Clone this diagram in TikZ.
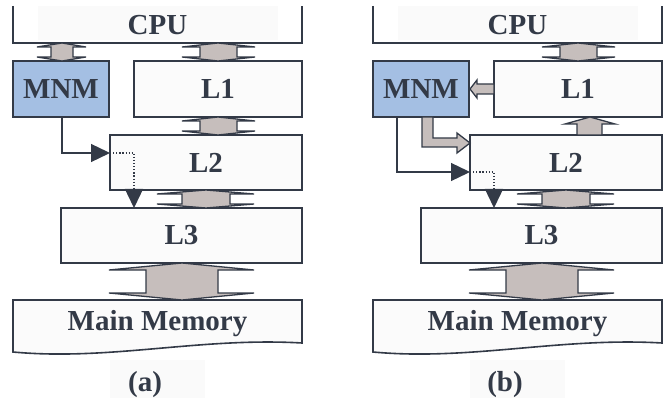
\documentclass[tikz,border=0pt]{standalone}
\usepackage{fontspec}
\setmainfont{Liberation Serif}
\usetikzlibrary{calc,arrows.meta}
\definecolor{ink}{HTML}{333A47}
\definecolor{busfill}{HTML}{C6BEBC}
\definecolor{mnmfill}{HTML}{A4BFE3}
\definecolor{paper}{HTML}{FBFBFB}
\definecolor{tagbg}{HTML}{FAFAFA}
\tikzset{
  txt/.style={inner sep=0pt, text=ink, font=\fontsize{29}{29}\selectfont\bfseries},
  unit/.style={txt, draw=ink, line width=1.6pt, fill=paper},
  bus/.style={draw=ink, line width=1.3pt, fill=busfill, line join=miter},
  wire/.style={draw=ink, line width=1.3pt, -{Triangle[length=19pt,width=18pt]}},
  dots/.style={wire, dash pattern=on 1.2pt off 1.9pt},
  tagfill/.style={fill=tagbg, draw=none}
}
% two-way bus: wing-left, shaft-left, apex, shaft-right, wing-right, top, bottom, head depth
\newcommand\twoway[8]{%
  \path[bus] (#3,#6) -- (#1,#6+#8) -- (#2,#6+#8) -- (#2,#7-#8) -- (#1,#7-#8)
    -- (#3,#7) -- (#5,#7-#8) -- (#4,#7-#8) -- (#4,#6+#8) -- (#5,#6+#8) -- cycle;}
% the part of the hierarchy shared by both variants
\newcommand\hierarchy[2]{%
  \path[tagfill] (38,6) rectangle (278,40);
  \path[tagfill] (110,360) rectangle (205,398);
  \draw[ink, line width=1.6pt] (13,6) -- (13,43) -- (302,43) -- (302,6);
  \node[txt] (cpu#1) at (157.5,25) {CPU};
  \node[unit, fill=mnmfill, minimum width=96pt, minimum height=56pt] (mnm#1) at (61,89) {MNM};
  \node[unit, minimum width=168pt, minimum height=56pt] (lone#1) at (218,89) {L1};
  \node[unit, minimum width=192pt, minimum height=55pt] (ltwo#1) at (206,162.5) {L2};
  \node[unit, minimum width=241pt, minimum height=55pt] (lthree#1) at (181.5,235.5) {L3};
  \draw[ink, line width=1.6pt, fill=paper] (13,300) -- (302,300) -- (302,343)
    .. controls (200,337) and (110,361) .. (13,352) -- cycle;
  \node[txt] (mem#1) at (157.5,324) {Main Memory};
  \node[txt] (tag#1) at (145,385) {#2};
  \twoway{182}{200}{218}{237}{255}{43}{61}{4}
  \twoway{157}{182}{206}{230}{254}{190}{208}{4}
  \twoway{109}{146}{182}{218}{254}{263}{300}{7}
}
\begin{document}
\begin{tikzpicture}[x=1pt,y=-1pt]
  \useasboundingbox (0,0) rectangle (666,398);
  % variant (a)
  \begin{scope}
    \hierarchy{A}{(a)}
    \twoway{37}{51}{62}{73}{86}{43}{61}{4}
    \twoway{182}{200}{218}{237}{255}{117}{135}{4}
    \coordinate (jA) at (110,153);
    \draw[wire] ($(mnmA.south)+(1,0)$) |- (jA);
    \draw[dots] (jA) -| (134,208);
  \end{scope}
  % variant (b)
  \begin{scope}[xshift=360pt]
    \hierarchy{B}{(b)}
    % L1 to MNM
    \path[bus] (134,84) -- (117,84) -- (117,80) -- (110,89) -- (117,98) -- (117,94) -- (134,94) -- cycle;
    % L2 up to L1
    \path[bus] (217,135) -- (217,124) -- (205,124) -- (230,117) -- (255,124) -- (242,124) -- (242,135) -- cycle;
    % MNM to L2 (bent)
    \path[bus] (62,117) -- (62,147) -- (97,147) -- (97,153) -- (110,143) -- (97,133) -- (97,138) -- (73,138) -- (73,117) -- cycle;
    \coordinate (jB) at (110,172);
    \draw[wire] ($(mnmB.south)+(-24,0)$) |- (jB);
    \draw[dots] (jB) -| (134,208);
  \end{scope}
\end{tikzpicture}
\end{document}
